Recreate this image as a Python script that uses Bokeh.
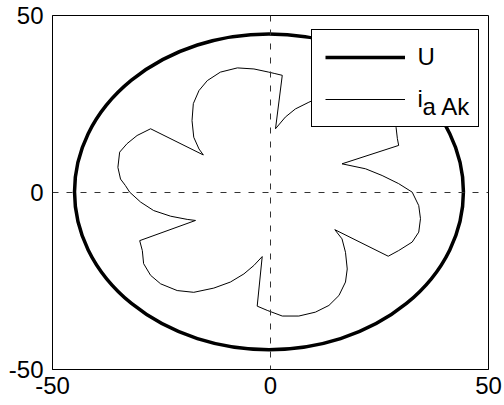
from bokeh.plotting import figure
from bokeh.models import (Range1d, FixedTicker, Span, Legend, LegendItem, Label,
                          BoxAnnotation, ColumnDataSource)
from bokeh.embed import file_html
from bokeh.resources import INLINE

# ---- data ----
# U: voltage space vector, a circle
u_center_x = [-0.35]
u_center_y = [0.2]
u_diameter = [89.2]

# i_a Ak: current space vector (six lobes), traced clockwise
ia_x = [
    -15.4, -16.4, -17.6, -18.0, -17.7, -16.4, -14.5, -11.5, -7.6, -3.8, -0.4, 1.0, 2.7,
    1.15, 3.4, 5.7, 8.8, 12.0, 15.5, 19.0, 22.2, 25.1, 27.2, 28.8, 29.1, 29.4,
    16.4, 21.8, 25.6, 29.4, 32.5, 34.0, 34.4, 34.0, 32.5, 29.4, 27.0,
    14.75, 16.4, 17.2, 17.6, 17.2, 15.7, 13.4, 10.3, 6.5, 2.7, -0.75, -3.05,
    -1.9, -3.8, -6.1, -9.2, -13.0, -17.6, -21.4, -25.2, -27.5, -29.1, -29.4, -30.0,
    -17.2, -19.1, -22.9, -26.8, -29.8, -32.3, -33.3, -34.4, -35.0, -34.6, -32.9, -30.6, -27.5,
    -15.4,
]
ia_y = [
    10.6, 12.3, 15.6, 20.3, 25.1, 28.8, 31.6, 34.0, 35.2, 34.9, 34.0, 33.6, 33.1,
    18.0, 21.3, 23.6, 25.5, 27.3, 28.5, 28.6, 27.8, 25.9, 22.8, 18.4, 15.2, 13.3,
    8.1, 6.7, 4.8, 2.5, 0.1, -3.7, -7.4, -11.2, -14.0, -16.4, -18.0,
    -10.5, -13.1, -16.9, -21.6, -25.3, -29.1, -31.9, -33.8, -34.9, -34.9, -33.3, -32.1,
    -18.1, -20.6, -23.0, -25.3, -27.0, -28.2, -27.7, -25.8, -23.4, -20.1, -16.4, -13.6,
    -7.9, -7.6, -6.7, -5.1, -2.7, 0.1, 2.0, 3.8, 7.1, 11.4, 13.8, 16.1, 18.0,
    10.6,
]

x_ticks = [-50, 0, 50]
y_ticks = [-50, 0, 50]
tick_labels = {-50: "-50", 0: "0", 50: "50"}
x_limits = [-50, 50]
y_limits = [-50, 50]
legend_labels = ["U", "i"]
legend_subscript = "a Ak"

FONT = "Liberation Sans"
FW, FH = 436, 354

p = figure(frame_width=FW, frame_height=FH, output_backend="svg",
           toolbar_location=None,
           x_range=Range1d(*x_limits), y_range=Range1d(*y_limits),
           min_border_left=52, min_border_right=16, min_border_top=15,
           min_border_bottom=36)
p.background_fill_color = "white"
p.border_fill_color = "white"
p.outline_line_color = "black"
p.outline_line_alpha = 1.0
p.outline_line_width = 1
p.grid.grid_line_color = None

for ax, ticks in ((p.xaxis, x_ticks), (p.yaxis, y_ticks)):
    ax.ticker = FixedTicker(ticks=ticks)
    ax.major_label_overrides = tick_labels
    ax.major_tick_line_color = None
    ax.major_tick_out = 0
    ax.major_tick_in = 0
    ax.minor_tick_line_color = None
    ax.minor_tick_out = 0
    ax.axis_line_color = "black"
    ax.major_label_text_font = FONT
    ax.major_label_text_font_size = "24px"
    ax.major_label_text_color = "black"
p.xaxis.major_label_standoff = 7
p.yaxis.major_label_standoff = 9

# zero lines
p.add_layout(Span(location=0, dimension="height", line_color="#333333",
                  line_width=1, line_dash="6 8"))
p.add_layout(Span(location=0, dimension="width", line_color="#333333",
                  line_width=1, line_dash="6 8"))

# U circle
p.ellipse(x=u_center_x, y=u_center_y, width=u_diameter, height=u_diameter,
          fill_color=None, line_color="black", line_width=3.5)
# single-point line: invisible in the plot, gives the legend its line sample
u_proxy = p.line(x=u_center_x, y=u_center_y, line_color="black", line_width=3.5)

# i_a Ak
ia_src = ColumnDataSource(data=dict(x=ia_x, y=ia_y))
ia_r = p.line("x", "y", source=ia_src, line_color="black", line_width=1)

LW, LH = 166, 96
leg_x = 258.5
leg_y = 242.5

# white panel behind the legend (hides the curve under it)
p.add_layout(BoxAnnotation(left=leg_x, right=leg_x + LW, bottom=leg_y, top=leg_y + LH,
                           left_units="screen", right_units="screen",
                           bottom_units="screen", top_units="screen",
                           fill_color="white", fill_alpha=1.0, line_alpha=0,
                           level="glyph"))

legend = Legend(items=[LegendItem(label=legend_labels[0], renderers=[u_proxy]),
                       LegendItem(label=legend_labels[1], renderers=[ia_r])],
                location=(leg_x, leg_y))
legend.label_text_font = FONT
legend.label_text_font_size = "24px"
legend.label_text_color = "black"
legend.padding = 13
legend.spacing = 14
legend.glyph_width = 80
legend.glyph_height = 28
legend.label_height = 28
legend.label_width = 47
legend.label_standoff = 13
legend.border_line_color = "black"
legend.border_line_width = 1
legend.border_line_alpha = 1.0
legend.background_fill_alpha = 0.0
legend.margin = 0
p.add_layout(legend)

sub_x = leg_x + 13 + 80 + 13 + 5.5
sub_y = leg_y + 21.0
p.add_layout(Label(x=sub_x, y=sub_y, x_units="screen", y_units="screen",
                   text=legend_subscript, text_font=FONT, text_font_size="24px",
                   text_color="black", text_baseline="alphabetic"))

open("out.html", "w").write(file_html(p, INLINE))
